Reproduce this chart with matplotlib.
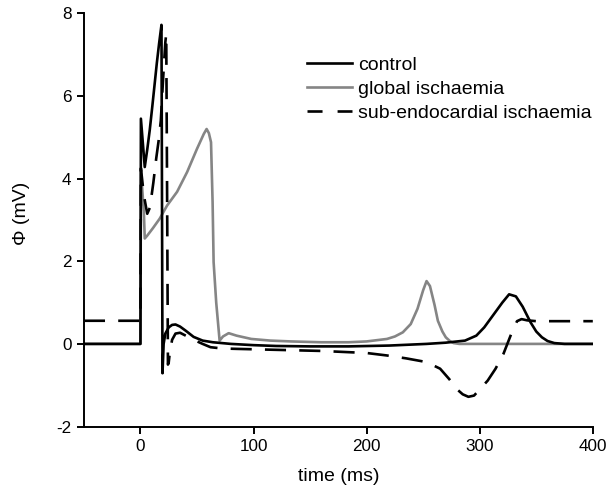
import numpy as np
import matplotlib
matplotlib.use("Agg")
import matplotlib.pyplot as plt
from matplotlib.lines import Line2D

plt.rcParams['font.family'] = ['Liberation Sans', 'DejaVu Sans']
plt.rcParams['font.size'] = 14
plt.rcParams['axes.unicode_minus'] = False

# control
control_t = [-50, 0, 0.4, 3.8, 6, 8.2, 10.5, 12.6, 14.5, 16.5, 18.6, 19.0, 19.5, 20.5, 22, 25,
             28, 31, 35, 40, 47, 55, 64, 80, 100, 120, 150, 184, 220, 253, 270, 287, 297,
             304, 312, 320, 326, 332, 338, 345, 350, 355, 360, 366, 375, 400]
control_v = [0, 0, 5.45, 4.28, 4.7, 5.17, 5.75, 6.3, 6.8, 7.27, 7.72, 4.0, -0.71, 0.0, 0.25, 0.4,
             0.46, 0.47, 0.42, 0.32, 0.17, 0.08, 0.04, 0.0, -0.03, -0.05, -0.06, -0.06, -0.04,
             0.0, 0.03, 0.08, 0.2, 0.4, 0.7, 1.0, 1.2, 1.15, 0.9, 0.52, 0.3, 0.16, 0.07, 0.02,
             0.0, 0.0]

# global ischaemia
global_t = [-50, 0, 0.4, 3.0, 3.8, 6, 11, 17, 23.6, 32.4, 41.3, 50, 56, 58.5, 60.5, 62.4, 63.8,
            64.7, 67, 70, 73, 78, 85, 98, 115, 133, 160, 184, 200, 218, 225, 232, 239, 245,
            250, 253, 256, 260, 263, 267, 270, 274, 277, 282, 300, 400]
global_v = [0, 0, 4.2, 3.2, 2.55, 2.62, 2.8, 3.03, 3.35, 3.68, 4.16, 4.72, 5.08, 5.2, 5.1, 4.88,
            3.43, 1.98, 1.0, 0.08, 0.18, 0.26, 0.2, 0.12, 0.08, 0.06, 0.04, 0.04, 0.06, 0.12,
            0.18, 0.28, 0.48, 0.85, 1.3, 1.52, 1.4, 0.95, 0.56, 0.3, 0.16, 0.06, 0.02, 0.0,
            0.0, 0.0]

# sub-endocardial ischaemia
subendo_t = [-50, 0, 0.4, 3, 6, 8.4, 11.4, 14, 16, 18, 20, 22, 22.8, 23.5, 24.3, 25, 26, 28,
             31, 35, 40, 47, 55, 62, 72, 85, 100, 130, 160, 184, 200, 218, 235, 253, 265, 273,
             280, 285, 290, 295, 300, 307, 314, 321, 328, 333, 337, 342, 350, 400]
subendo_v = [0.56, 0.56, 4.25, 3.6, 3.15, 3.3, 3.9, 4.5, 4.9, 5.4, 6.4, 7.3, 7.5, 4.0, -0.5,
             -0.45, -0.2, 0.1, 0.25, 0.27, 0.2, 0.1, 0.0, -0.08, -0.11, -0.12, -0.13, -0.15,
             -0.17, -0.2, -0.22, -0.28, -0.35, -0.44, -0.6, -0.85, -1.1, -1.22, -1.28, -1.25,
             -1.1, -0.89, -0.6, -0.24, 0.25, 0.55, 0.6, 0.57, 0.55, 0.55]

labels = ['control', 'global ischaemia', 'sub-endocardial ischaemia']
xticks = [0, 100, 200, 300, 400]
yticks = [-2, 0, 2, 4, 6, 8]

fig = plt.figure(figsize=(6.08, 4.92), dpi=100)
ax = fig.add_axes([0.138, 0.133, 0.837, 0.840])

lw = 1.9
grey = '#858585'
ax.plot(control_t, control_v, color='black', lw=lw, zorder=3)
ax.plot(global_t, global_v, color=grey, lw=lw, zorder=2)
ax.plot(subendo_t, subendo_v, color='black', lw=lw, dashes=(8, 5), zorder=4)

ax.set_xlim(-50, 400)
ax.set_ylim(-2, 8)
ax.set_xticks(xticks)
ax.set_yticks(yticks)
ax.spines['top'].set_visible(False)
ax.spines['right'].set_visible(False)
for s in ['left', 'bottom']:
    ax.spines[s].set_linewidth(1.4)
ax.tick_params(direction='out', length=5, width=1.4, pad=4, labelsize=12.3)

ax.set_xlabel('time (ms)', labelpad=10)
ax.set_ylabel('\u03a6 (mV)', labelpad=19)
ax.yaxis.label.set_y(0.515)

handles = [Line2D([], [], color='black', lw=lw),
           Line2D([], [], color=grey, lw=lw),
           Line2D([], [], color='black', lw=lw, dashes=(5.7, 5.7))]
ax.legend(handles, labels, loc='upper left', bbox_to_anchor=(0.438, 0.896), frameon=False,
          borderpad=0, borderaxespad=0, handlelength=2.32, handletextpad=0.3,
          labelspacing=0.33)

fig.savefig('out.png', dpi=100)
